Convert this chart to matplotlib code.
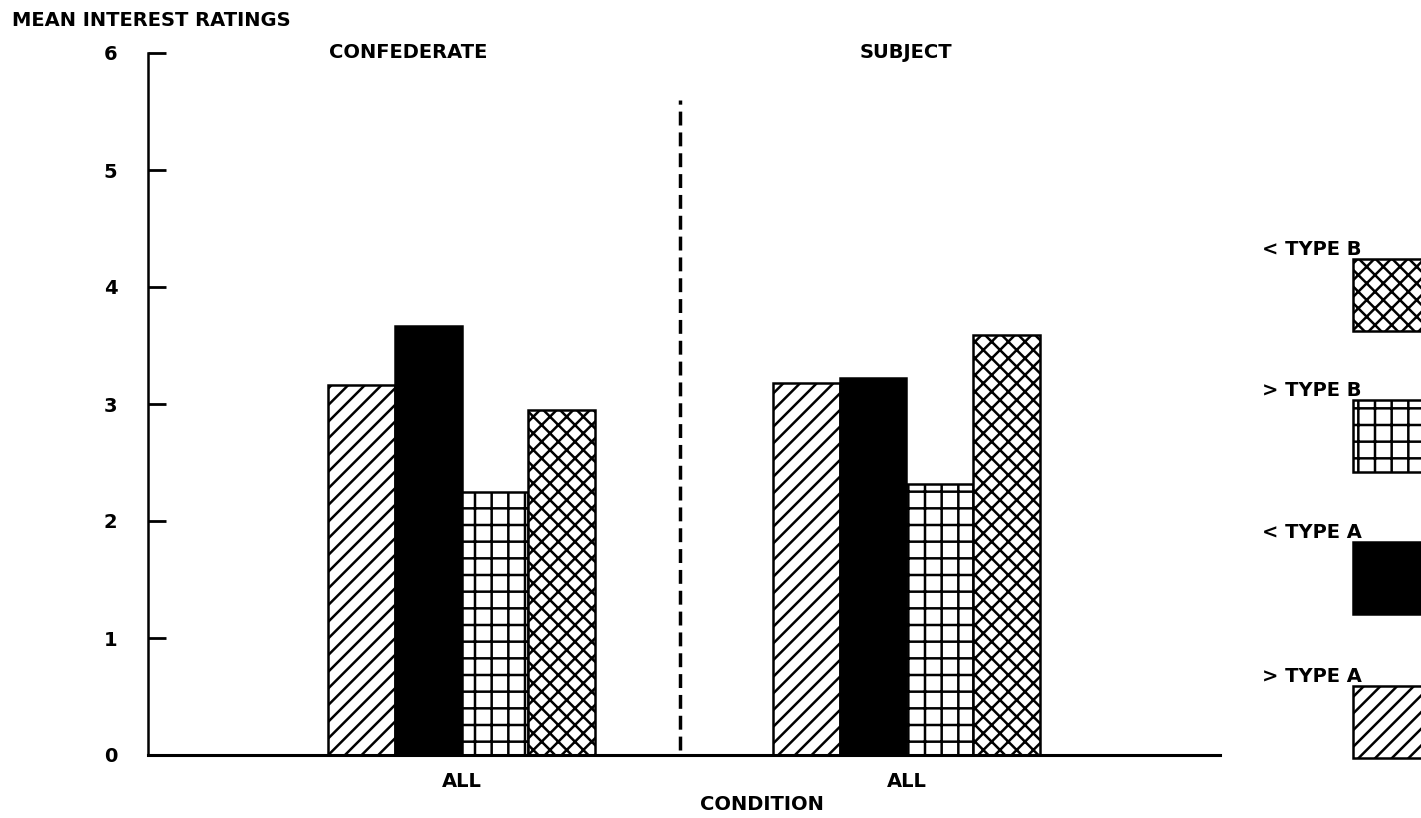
import matplotlib.pyplot as plt
from matplotlib.patches import Rectangle

# Data
groups = ["CONFEDERATE", "SUBJECT"]
series = ["> TYPE A", "< TYPE A", "> TYPE B", "< TYPE B"]
values = {
    "> TYPE A": [3.16, 3.18],
    "< TYPE A": [3.67, 3.22],
    "> TYPE B": [2.25, 2.32],
    "< TYPE B": [2.95, 3.59],
}
tick_labels = ["ALL", "ALL"]
yticks = [0, 1, 2, 3, 4, 5, 6]

# fill colour + hatch per series
fills = {
    "> TYPE A": ("white", "//"),
    "< TYPE A": ("black", None),
    "> TYPE B": ("white", "+"),
    "< TYPE B": ("white", "xx"),
}

plt.rcParams['font.family'] = 'DejaVu Sans'
plt.rcParams['font.weight'] = 'bold'
plt.rcParams['hatch.linewidth'] = 1.8
FS = 14

W, H = 1421, 818
fig = plt.figure(figsize=(W / 100, H / 100), dpi=100)


def px(x, y):
    return x / W, 1 - y / H


# axes: y axis at x=148, 0 at y=755, 6 at y=53, right end at x=1220
left, bottom = px(148, 755)
_, top = px(0, 53)
ax = fig.add_axes([left, bottom, (1220 - 148) / W, top - bottom])

width = 0.15
xs = [0, 1]
for i, s in enumerate(series):
    color, hatch = fills[s]
    offs = [x + (i - 1.5) * width for x in xs]
    ax.bar(offs, values[s], width=width, color=color, hatch=hatch,
           edgecolor="black", linewidth=1.8)

ax.set_xlim(-0.705, 1.705)
ax.set_ylim(0, 6)

# dashed separator
ax.plot([0.49, 0.49], [0.04, 5.6], color="black", lw=2.5,
        linestyle=(0, (4, 2)))

for sp in ["top", "right"]:
    ax.spines[sp].set_visible(False)
ax.spines["left"].set_linewidth(1.8)
ax.spines["bottom"].set_linewidth(2.2)

ax.set_yticks(yticks)
ax.set_yticklabels([str(t) for t in yticks], fontsize=FS, fontweight="bold")
ax.tick_params(axis="y", direction="in", length=13, width=2, pad=22)
ax.set_xticks(xs)
ax.set_xticklabels(tick_labels, fontsize=FS, fontweight="bold")
ax.tick_params(axis="x", length=0, pad=12)

# group headers
ax.text(-0.12, 6.0, groups[0], ha="center", va="center", fontsize=FS, fontweight="bold")
ax.text(1.0, 6.0, groups[1], ha="center", va="center", fontsize=FS, fontweight="bold")

fig.text(*px(12, 20), "MEAN INTEREST RATINGS", ha="left", va="center",
         fontsize=FS, fontweight="bold")
fig.text(*px(762, 805), "CONDITION", ha="center", va="center",
         fontsize=FS, fontweight="bold")

# legend on the right (cut by figure edge)
legend_tops = [259, 400, 542, 686]
for s, t in zip(["< TYPE B", "> TYPE B", "< TYPE A", "> TYPE A"], legend_tops):
    color, hatch = fills[s]
    x0, y0 = px(1353, t + 72)
    fig.add_artist(Rectangle((x0, y0), 74 / W, 72 / H, transform=fig.transFigure,
                             facecolor=color, hatch=hatch, edgecolor="black",
                             linewidth=1.8))
    fig.text(*px(1262, t - 4), s, ha="left", va="baseline",
             fontsize=FS, fontweight="bold")

fig.savefig("out.png", dpi=100)
